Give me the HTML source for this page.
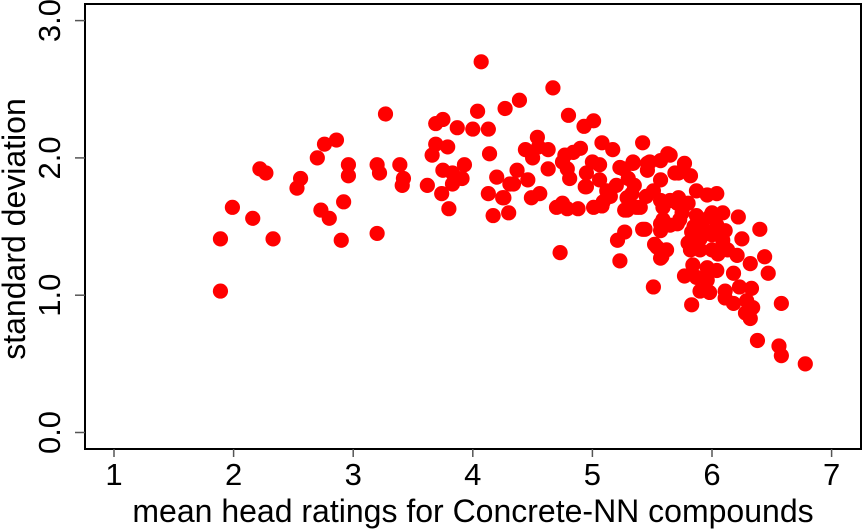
<!DOCTYPE html>
<html><head><meta charset="utf-8"><style>
html,body{margin:0;padding:0;background:#fff;}
svg{display:block;font-family:"Liberation Sans",Arial,sans-serif;}
</style></head><body>
<svg id="chart" width="863" height="530" viewBox="0 0 863 530">
<rect x="85" y="4" width="776" height="445" fill="none" stroke="#000" stroke-width="2"/>
<g id="marks"></g>
<g id="axes"></g>
<text x="473" y="522" font-size="32" text-anchor="middle" fill="#000">mean head ratings for Concrete-NN compounds</text>
<text transform="translate(25,229) rotate(-90)" font-size="32" text-anchor="middle" fill="#000">standard deviation</text>
</svg>
<script>
const xTicks = [1,2,3,4,5,6,7];
const yTicks = [0,1,2,3];
const yTickLabels = ["0.0","1.0","2.0","3.0"];
const xs = [1.89,1.89,1.99,2.16,2.33,2.22,2.27,2.53,2.56,2.70,2.76,2.86,2.73,2.80,2.92,2.90,2.96,2.96,3.20,3.27,3.20,3.22,3.39,3.42,3.41,3.62,3.69,3.75,3.87,4.00,4.04,4.13,4.07,4.27,4.39,3.69,3.79,3.66,4.14,4.20,4.13,4.17,4.30,4.26,4.34,3.75,3.83,3.93,3.91,3.74,3.80,3.83,
4.67,4.80,5.01,4.93,4.54,4.44,4.63,4.50,4.77,4.90,5.08,5.17,5.42,5.63,5.34,5.48,5.69,4.37,4.63,4.79,4.95,5.06,5.23,4.31,4.46,4.56,4.49,4.25,4.70,4.75,4.88,5.01,5.09,4.95,5.12,5.29,5.37,5.29,4.73,5.23,5.21,5.27,5.42,5.52,5.62,5.57,5.51,4.75,4.84,4.55,5.46,5.57,5.51,5.59,5.71,5.71,5.57,
4.79,5.08,4.81,4.94,5.06,5.26,5.34,5.46,5.57,5.65,5.77,5.72,5.82,5.33,5.40,5.27,5.57,5.65,5.72,5.80,5.87,5.96,6.04,5.87,5.98,6.09,6.22,5.59,5.44,5.57,5.65,5.73,5.83,5.92,6.04,6.11,6.40,6.25,6.09,6.00,5.90,5.80,5.54,5.58,5.82,5.90,6.00,6.13,6.21,6.32,6.44,6.47,5.96,6.04,6.18,5.84,5.77,5.87,5.96,5.90,5.98,6.11,6.23,6.33,6.11,6.18,6.29,6.34,6.28,6.32,5.83,6.58,6.38,6.56,6.58,6.78,
5.20,5.30,5.15,5.35,5.45,5.00,5.90,6.00,5.95,6.05,5.85,5.75];
const ys = [1.41,1.03,1.64,1.56,1.41,1.92,1.89,1.78,1.85,2.00,2.10,2.13,1.62,1.56,1.68,1.40,1.95,1.87,1.45,2.32,1.95,1.89,1.95,1.85,1.80,1.80,2.25,2.28,2.22,2.21,2.34,2.21,2.70,2.36,2.42,2.10,2.08,2.02,2.03,1.86,1.74,1.58,1.60,1.71,1.81,1.91,1.89,1.95,1.85,1.74,1.63,1.81,
2.51,2.31,2.27,2.23,2.15,2.06,2.06,2.00,2.02,2.07,2.11,2.06,2.11,2.03,1.97,1.97,1.89,1.91,1.92,1.92,1.89,1.95,1.93,1.81,1.84,1.74,1.71,1.71,1.64,1.67,1.63,1.64,1.68,1.79,1.76,1.71,1.64,1.62,1.31,1.25,1.40,1.46,1.48,1.37,1.33,1.27,1.06,1.97,2.04,2.08,1.91,1.84,1.76,1.64,1.67,1.52,1.52,
1.63,1.65,1.85,1.79,1.84,1.92,1.96,1.96,1.98,2.02,1.96,1.89,1.87,1.74,1.64,1.62,1.69,1.69,1.71,1.67,1.76,1.73,1.74,1.58,1.57,1.60,1.57,1.55,1.48,1.47,1.51,1.55,1.46,1.49,1.51,1.47,1.48,1.41,1.40,1.44,1.41,1.38,1.35,1.28,1.33,1.33,1.33,1.33,1.29,1.23,1.28,1.16,1.20,1.18,1.16,1.22,1.14,1.13,1.11,1.03,1.02,1.03,1.06,1.05,0.98,0.94,0.96,0.91,0.87,0.83,0.93,0.94,0.67,0.63,0.56,0.50,
1.80,1.85,1.72,1.80,1.72,1.97,1.55,1.60,1.45,1.30,1.50,1.60];

const NS = "http://www.w3.org/2000/svg";
function sx(v){ return 114 + (v - 1) * 119.6; }
function sy(v){ return 432.5 - v * 137.3; }
const marks = document.getElementById('marks');
for (let i = 0; i < xs.length; i++) {
  const c = document.createElementNS(NS, 'circle');
  c.setAttribute('cx', sx(xs[i]));
  c.setAttribute('cy', sy(ys[i]));
  c.setAttribute('r', 7.6);
  c.setAttribute('fill', '#ff0000');
  
  
  marks.appendChild(c);
}
const axes = document.getElementById('axes');
xTicks.forEach(function(t){
  const l = document.createElementNS(NS, 'line');
  l.setAttribute('x1', sx(t)); l.setAttribute('x2', sx(t));
  l.setAttribute('y1', 449); l.setAttribute('y2', 457);
  l.setAttribute('stroke', '#555'); l.setAttribute('stroke-width', 1.5);
  
  
  axes.appendChild(l);
  const tx = document.createElementNS(NS, 'text');
  tx.setAttribute('x', sx(t)); tx.setAttribute('y', 485);
  tx.setAttribute('font-size', 31); tx.setAttribute('text-anchor', 'middle');
  tx.textContent = t;
  
  
  axes.appendChild(tx);
});
yTicks.forEach(function(t, i){
  const l = document.createElementNS(NS, 'line');
  l.setAttribute('x1', 75); l.setAttribute('x2', 85);
  l.setAttribute('y1', sy(t)); l.setAttribute('y2', sy(t));
  l.setAttribute('stroke', '#555'); l.setAttribute('stroke-width', 1.5);
  
  
  axes.appendChild(l);
  const tx = document.createElementNS(NS, 'text');
  tx.setAttribute('transform', 'translate(60,' + sy(t) + ') rotate(-90)');
  tx.setAttribute('font-size', 31); tx.setAttribute('text-anchor', 'middle');
  tx.textContent = yTickLabels[i];
  
  
  axes.appendChild(tx);
});
</script>
</body></html>
